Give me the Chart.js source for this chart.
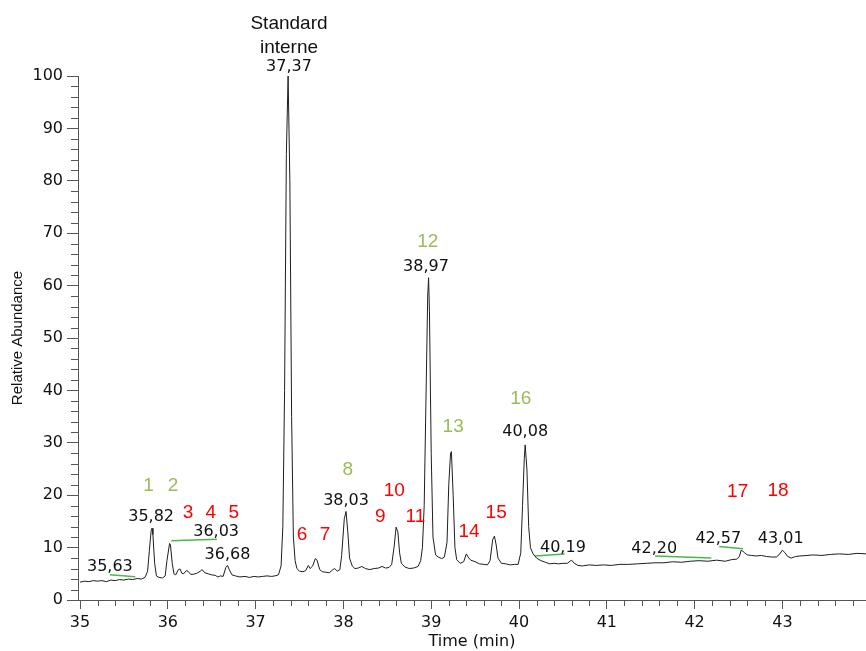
<!DOCTYPE html>
<html>
<head>
<meta charset="utf-8">
<script src="https://cdn.jsdelivr.net/npm/chart.js@4.4.1/dist/chart.umd.min.js"></script>
<style>
    html, body { margin: 0; padding: 0; background: #ffffff; }
    #wrap { position: relative; width: 866px; height: 651px; }
</style>
</head>
<body>
<div id="wrap"><canvas id="chromChart"></canvas></div>
<script>
    // --- DADOS: cromatograma (tempo em min / abundância relativa) ---
    const timeMin = [
        35.00, 35.05, 35.10, 35.15, 35.20, 35.25, 35.30, 35.35, 35.40, 35.45, 35.50, 35.55, 35.60, 35.65, 35.70,
        35.74, 35.77, 35.79, 35.81, 35.82, 35.83, 35.85, 35.87, 35.90, 35.94, 35.97, 35.99, 36.02, 36.03, 36.05,
        36.07, 36.09, 36.12, 36.14, 36.16, 36.18, 36.21, 36.23, 36.26, 36.29, 36.33, 36.37, 36.39, 36.42, 36.46,
        36.50, 36.54, 36.57, 36.60, 36.63, 36.66, 36.68, 36.70, 36.73, 36.77, 36.82, 36.88, 36.93, 36.98, 37.03,
        37.08, 37.13, 37.18, 37.22, 37.26, 37.29, 37.31, 37.33, 37.35, 37.37, 37.39, 37.41, 37.43, 37.45, 37.47,
        37.50, 37.54, 37.57, 37.60, 37.62, 37.65, 37.68, 37.70, 37.73, 37.76, 37.80, 37.84, 37.88, 37.90, 37.93,
        37.96, 37.98, 38.01, 38.03, 38.05, 38.07, 38.10, 38.13, 38.17, 38.21, 38.25, 38.30, 38.35, 38.40, 38.44,
        38.48, 38.52, 38.55, 38.58, 38.60, 38.62, 38.64, 38.66, 38.70, 38.75, 38.80, 38.85, 38.88, 38.90, 38.92,
        38.94, 38.96, 38.97, 38.98, 39.00, 39.02, 39.05, 39.08, 39.12, 39.15, 39.18, 39.20, 39.22, 39.23, 39.25,
        39.27, 39.29, 39.33, 39.37, 39.40, 39.42, 39.45, 39.50, 39.55, 39.60, 39.64, 39.67, 39.70, 39.72, 39.74,
        39.76, 39.80, 39.85, 39.90, 39.95, 39.99, 40.02, 40.04, 40.06, 40.07, 40.09, 40.11, 40.13, 40.16, 40.20,
        40.25, 40.30, 40.35, 40.40, 40.45, 40.50, 40.55, 40.58, 40.60, 40.63, 40.67, 40.72, 40.80, 40.88, 40.96,
        41.05, 41.15, 41.25, 41.35, 41.45, 41.55, 41.65, 41.75, 41.85, 41.95, 42.05, 42.15, 42.25, 42.35, 42.42,
        42.48, 42.51, 42.53, 42.55, 42.57, 42.60, 42.65, 42.70, 42.76, 42.82, 42.88, 42.93, 42.96, 43.00, 43.03,
        43.06, 43.10, 43.15, 43.20, 43.28, 43.35, 43.45, 43.55, 43.65, 43.75, 43.85, 43.96
    ];
    const relAbundance = [
        3.4, 3.6, 3.5, 3.7, 3.6, 3.7, 3.5, 3.8, 3.7, 3.9, 3.8, 4.0, 3.9, 4.1, 4.0,
        4.3, 5.5, 9.5, 13.2, 13.7, 12.5, 7.0, 4.6, 4.3, 4.2, 4.6, 7.5, 10.8, 10.5, 7.0,
        5.0, 4.8, 5.8, 5.9, 5.1, 5.0, 5.6, 5.5, 4.9, 4.9, 5.1, 5.5, 5.8, 5.2, 5.0,
        4.8, 4.7, 4.4, 4.6, 4.5, 6.2, 6.6, 5.8, 4.8, 4.6, 4.4, 4.5, 4.3, 4.5, 4.4,
        4.5, 4.6, 4.5, 4.6, 4.8, 6.5, 14, 40, 85, 100, 80, 35, 12, 7.5, 6.0,
        5.5, 5.4, 5.6, 6.6, 6.0, 6.5, 7.9, 7.6, 5.8, 5.4, 5.3, 5.2, 5.8, 6.0, 5.5,
        5.8, 8.5, 15.5, 16.9, 13, 8.0, 6.5, 6.0, 6.1, 6.4, 6.0, 5.8, 6.0, 6.1, 6.4,
        6.1, 6.2, 6.8, 10.5, 13.9, 13.0, 9.0, 7.0, 6.3, 6.0, 6.1, 6.4, 7.5, 10, 18,
        38, 58, 61.5, 55, 28, 12, 8.6, 8.2, 7.9, 8.2, 11, 22, 28, 28.3, 20,
        10, 7.7, 7.0, 7.3, 8.8, 8.2, 7.6, 7.3, 6.9, 6.8, 6.7, 7.5, 11.5, 12.2, 10.5,
        8.0, 7.0, 6.9, 6.7, 6.8, 6.8, 9.0, 18, 27, 29.6, 25, 14, 10, 8.8, 8.0,
        7.5, 7.2, 6.9, 7.0, 6.9, 7.0, 7.0, 7.4, 7.6, 7.0, 6.6, 6.5, 6.7, 6.6, 6.7,
        6.6, 6.8, 6.8, 6.9, 7.0, 7.1, 7.1, 7.3, 7.2, 7.4, 7.5, 7.4, 7.6, 7.4, 7.7,
        7.8, 8.3, 9.5, 9.3, 9.0, 8.6, 8.5, 8.4, 8.5, 8.3, 8.2, 8.2, 8.6, 9.5, 9.0,
        8.3, 8.0, 8.3, 8.4, 8.5, 8.6, 8.5, 8.7, 8.8, 8.7, 8.9, 8.8
    ];

    // linhas de base de integração (verde): [t1, y1, t2, y2]
    const baselineSegments = [
        [35.34, 4.8, 35.63, 4.45],
        [36.04, 11.3, 36.56, 11.6],
        [40.18, 8.4, 40.52, 8.8],
        [41.55, 8.4, 42.19, 8.0],
        [42.28, 10.2, 42.55, 9.8]
    ];

    // rótulos de tempo de retenção (preto)
    const rtText = ['35,63', '35,82', '36,03', '36,68', '37,37', '38,03', '38,97', '40,08', '40,19', '42,20', '42,57', '43,01'];
    const rtAtTime = [35.34, 35.81, 36.55, 36.68, 37.38, 38.03, 38.94, 40.07, 40.50, 41.54, 42.27, 42.98];
    const rtAtValue = [6.3, 15.8, 13.0, 8.7, 101.8, 18.9, 63.6, 32.0, 10.0, 9.7, 11.6, 11.6];

    // números dos picos (verde = identificados, vermelho = outros)
    const greenIds = ['1', '2', '8', '12', '13', '16'];
    const greenAtTime = [35.78, 36.06, 38.05, 38.96, 39.25, 40.02];
    const greenAtValue = [21.8, 21.8, 24.8, 68.4, 33.0, 38.4];
    const redIds = ['3', '4', '5', '6', '7', '9', '10', '11', '14', '15', '17', '18'];
    const redAtTime = [36.23, 36.49, 36.75, 37.53, 37.79, 38.42, 38.58, 38.82, 39.43, 39.74, 42.49, 42.95];
    const redAtValue = [16.7, 16.7, 16.7, 12.4, 12.4, 15.9, 20.9, 15.9, 13.0, 16.7, 20.6, 20.9];

    // padrão interno
    const stdLines = ['Standard', 'interne'];
    const stdAtTime = 37.38;
    const stdAtValue = [109.9, 105.3];

    const xRange = [34.977, 43.952];
    const yRange = [0, 100];

    // --- CONFIG ---
    const RED = '#FF0000';
    const GREEN_TXT = '#9BBB59';
    const GREEN_LINE = '#4DB84D';
    const AXIS = '#555555';
    const VERDANA = '"DejaVu Sans", Verdana, sans-serif';
    const ARIAL = '"Liberation Sans", Arial, sans-serif';

    const datasets = [{
        data: timeMin.map((t, i) => ({ x: t, y: relAbundance[i] })),
        borderColor: '#1e1e1e',
        borderWidth: 1,
        pointRadius: 0,
        tension: 0,
        clip: false
    }];
    baselineSegments.forEach(s => {
        datasets.push({
            data: [{ x: s[0], y: s[1] }, { x: s[2], y: s[3] }],
            borderColor: GREEN_LINE,
            borderWidth: 1.5,
            pointRadius: 0,
            tension: 0
        });
    });

    // pequenos traços (ticks menores) nos eixos
    const minorTicks = {
        id: 'minorTicks',
        afterDraw(chart) {
            const { ctx, chartArea, scales } = chart;
            ctx.save();
            ctx.strokeStyle = AXIS;
            ctx.lineWidth = 1;
            ctx.beginPath();
            for (let k = 175; k <= 219; k++) {
                if (k % 5 === 0) continue;
                const px = Math.round(scales.x.getPixelForValue(k / 5)) + 0.5;
                if (px > chartArea.right) continue;
                ctx.moveTo(px, chartArea.bottom);
                ctx.lineTo(px, chartArea.bottom + 6);
            }
            for (let k = 1; k < 50; k++) {
                if (k % 5 === 0) continue;
                const py = Math.round(scales.y.getPixelForValue(k * 2)) + 0.5;
                ctx.moveTo(chartArea.left - 7, py);
                ctx.lineTo(chartArea.left, py);
            }
            ctx.stroke();
            ctx.restore();
        }
    };

    // textos das anotações
    const peakLabels = {
        id: 'peakLabels',
        afterDatasetsDraw(chart) {
            const { ctx, scales } = chart;
            const put = (text, t, v, color, font) => {
                ctx.fillStyle = color;
                ctx.font = font;
                ctx.fillText(text, scales.x.getPixelForValue(t), scales.y.getPixelForValue(v));
            };
            ctx.save();
            ctx.textAlign = 'center';
            ctx.textBaseline = 'middle';
            stdLines.forEach((s, i) => put(s, stdAtTime, stdAtValue[i], '#111111', '19px ' + ARIAL));
            rtText.forEach((s, i) => put(s, rtAtTime[i], rtAtValue[i], '#111111', '16px ' + VERDANA));
            greenIds.forEach((s, i) => put(s, greenAtTime[i], greenAtValue[i], GREEN_TXT, '19px ' + ARIAL));
            redIds.forEach((s, i) => put(s, redAtTime[i], redAtValue[i], RED, '19px ' + ARIAL));
            ctx.restore();
        }
    };

    new Chart(document.getElementById('chromChart'), {
        type: 'line',
        data: { datasets },
        plugins: [minorTicks, peakLabels],
        options: {
            responsive: true,
            maintainAspectRatio: false,
            animation: false,
            layout: { padding: { top: 76, right: 0, bottom: 0, left: 0 } },
            plugins: {
                legend: { display: false },
                tooltip: { enabled: false }
            },
            scales: {
                x: {
                    type: 'linear',
                    position: 'bottom',
                    min: xRange[0],
                    max: xRange[1],
                    afterFit: s => { s.height = 51; },
                    border: { display: true, color: AXIS, width: 1 },
                    grid: { drawOnChartArea: false, drawTicks: true, tickLength: 9, tickColor: AXIS },
                    ticks: {
                        stepSize: 1,
                        includeBounds: false,
                        autoSkip: false,
                        maxRotation: 0,
                        padding: 4,
                        color: '#111111',
                        font: { family: VERDANA, size: 16 },
                        callback: v => Number.isInteger(v) ? v : ''
                    },
                    title: {
                        display: true,
                        text: 'Time (min)',
                        color: '#111111',
                        font: { family: VERDANA, size: 16 },
                        padding: { top: 0, bottom: 0 }
                    }
                },
                y: {
                    min: yRange[0],
                    max: yRange[1],
                    afterFit: s => { s.width = 78; },
                    border: { display: true, color: AXIS, width: 1 },
                    grid: { drawOnChartArea: false, drawTicks: true, tickLength: 11, tickColor: AXIS },
                    ticks: {
                        stepSize: 10,
                        padding: 4,
                        color: '#111111',
                        font: { family: VERDANA, size: 16 }
                    },
                    title: {
                        display: true,
                        text: 'Relative Abundance',
                        color: '#111111',
                        font: { family: ARIAL, size: 15 },
                        padding: { top: 9, bottom: 0 }
                    }
                }
            }
        }
    });
</script>
</body>
</html>
